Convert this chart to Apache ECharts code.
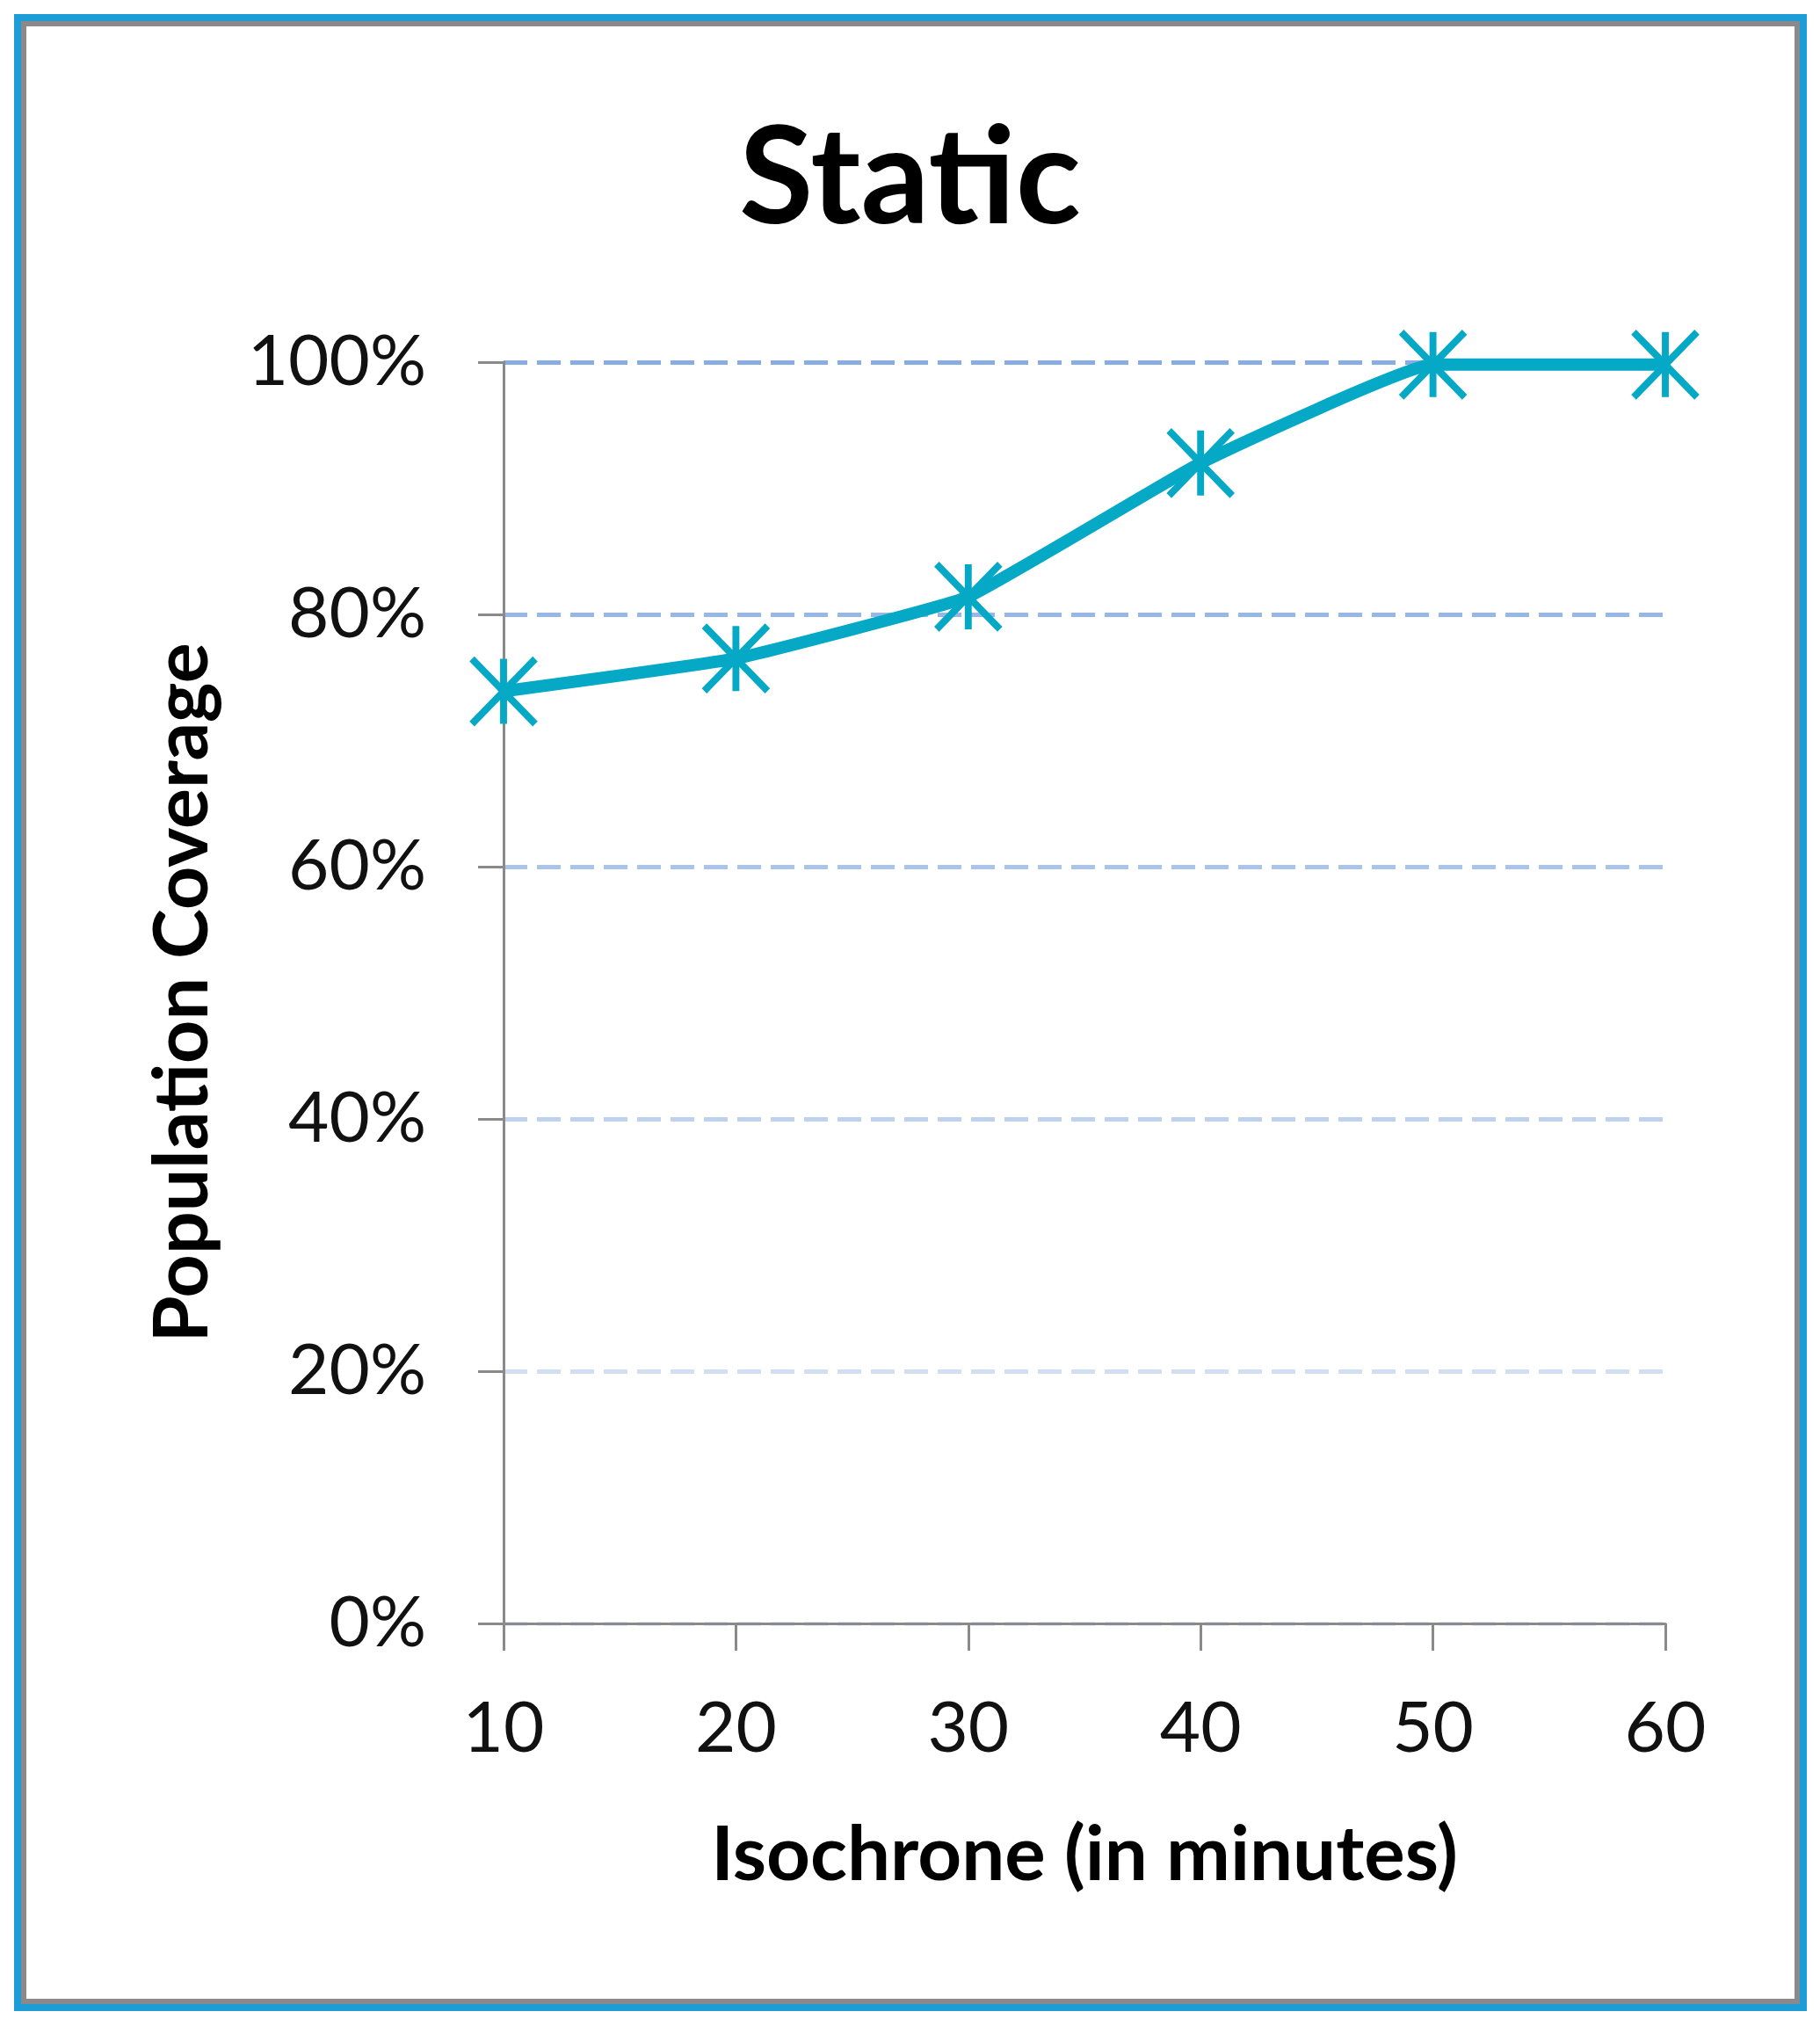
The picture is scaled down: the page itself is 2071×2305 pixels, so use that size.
<!DOCTYPE html>
<html>
<head>
<meta charset="utf-8">
<title>Static</title>
<script src="https://cdn.jsdelivr.net/npm/echarts@6/dist/echarts.min.js"></script>
<style>
  html, body { margin: 0; padding: 0; background: #fff; }
  #chart { width: 2071px; height: 2305px; }
</style>
</head>
<body>
<div id="chart"></div>
<script>
// isochrone minutes on the x axis, coverage in percent on the y axis
var isochrone = [10, 20, 30, 40, 50, 60];
var coverage = [73.9, 76.5, 81.4, 92.0, 99.8, 99.8];
var yTicks = [0, 20, 40, 60, 80, 100];

var teal = '#05a9c6';
var gridColors = ['#e0e9f7', '#d2dff3', '#bed1ee', '#aac4ea', '#97b8e6', '#88ade3'];

var chart = echarts.init(document.getElementById('chart'));

var points = isochrone.map(function (x, i) {
  return [x, coverage[i]];
});

var option = {
  backgroundColor: '#fff',
  animation: false,
  title: {
    text: 'Static',
    left: 'center',
    top: 122,
    textStyle: {
      fontFamily: 'Lato',
      fontWeight: 'bold',
      fontSize: 154,
      color: '#000'
    }
  },
  graphic: [
    {
      type: 'rect',
      shape: { x: 20, y: 20, width: 2032, height: 2264 },
      style: { fill: 'none', stroke: '#1d9dd8', lineWidth: 8 }
    },
    {
      type: 'rect',
      shape: { x: 27, y: 27, width: 2018, height: 2250 },
      style: { fill: 'none', stroke: '#8a8a8a', lineWidth: 6 }
    }
  ],
  grid: {
    left: 573,
    right: 176,
    top: 412,
    bottom: 458
  },
  xAxis: {
    type: 'value',
    min: 10,
    max: 60,
    interval: 10,
    name: 'Isochrone (in minutes)',
    nameLocation: 'middle',
    nameGap: 220,
    nameTextStyle: {
      fontFamily: 'Lato',
      fontWeight: 'bold',
      fontSize: 87,
      color: '#000'
    },
    axisLine: { show: true, lineStyle: { color: '#8a8a8a', width: 3 } },
    axisTick: { show: true, length: 31, lineStyle: { color: '#8a8a8a', width: 3 } },
    axisLabel: {
      margin: 80,
      fontFamily: 'Lato',
      fontSize: 80,
      color: '#111'
    },
    splitLine: { show: false }
  },
  yAxis: {
    type: 'value',
    min: yTicks[0],
    max: yTicks[yTicks.length - 1],
    interval: 20,
    name: 'Population Coverage',
    nameLocation: 'middle',
    nameGap: 322,
    nameTextStyle: {
      fontFamily: 'Lato',
      fontWeight: 'bold',
      fontSize: 86,
      color: '#000'
    },
    axisLine: { show: true, lineStyle: { color: '#8a8a8a', width: 3 } },
    axisTick: { show: true, length: 29, lineStyle: { color: '#8a8a8a', width: 3 } },
    axisLabel: {
      margin: 88,
      fontFamily: 'Lato',
      fontSize: 80,
      color: '#111',
      formatter: '{value}%'
    },
    splitLine: {
      show: true,
      lineStyle: { color: gridColors, width: 5, type: [27, 11] }
    }
  },
  series: [
    {
      type: 'line',
      data: points,
      smooth: 0.1,
      symbol: 'path://M50,0 L50,100 M0,0 L100,100 M0,100 L100,0',
      symbolSize: [72, 74],
      lineStyle: { color: teal, width: 14 },
      itemStyle: { color: teal, borderColor: teal, borderWidth: 8 },
      z: 3
    }
  ]
};

chart.setOption(option);
</script>
</body>
</html>
